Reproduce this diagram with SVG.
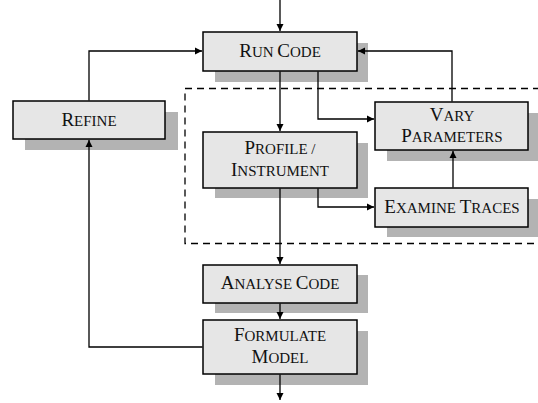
<svg xmlns="http://www.w3.org/2000/svg" width="538" height="403" viewBox="0 0 538 403">
<style>
.box{fill:#e6e6e6;stroke:#000;stroke-width:1.5}
.sh{fill:#b3b3b3}
.t{font-family:"Liberation Serif","Times New Roman",serif;font-size:15px;fill:#111;text-anchor:middle}
.c{font-size:19px}
.ln{fill:none;stroke:#000;stroke-width:1.3}
.dash{fill:none;stroke:#000;stroke-width:1.3;stroke-dasharray:7 5}
</style>
<defs>
<marker id="ah" markerWidth="8" markerHeight="8" refX="7" refY="4" orient="auto" markerUnits="userSpaceOnUse">
<path d="M0,0.5 L7,4 L0,7.5 z" fill="#000"/>
</marker>
</defs>
<path class="dash" d="M540,88.5 H185 V243.5 H540"/>
<g id="run-code">
<rect class="sh" x="215" y="43" width="153" height="39"/>
<rect class="box" x="203" y="32" width="154" height="39"/>
<text class="t" x="280" y="57"><tspan class="c">R</tspan>UN <tspan class="c">C</tspan>ODE</text>
</g>
<g id="refine">
<rect class="sh" x="25" y="112" width="153" height="38"/>
<rect class="box" x="13" y="101" width="152" height="38"/>
<text class="t" x="89" y="126"><tspan class="c">R</tspan>EFINE</text>
</g>
<g id="vary-parameters">
<rect class="sh" x="387" y="113" width="151" height="48"/>
<rect class="box" x="375" y="102" width="153" height="48"/>
<text class="t" x="452" y="121"><tspan class="c">V</tspan>ARY</text>
<text class="t" x="452" y="142"><tspan class="c">P</tspan>ARAMETERS</text>
</g>
<g id="profile-instrument">
<rect class="sh" x="215" y="143" width="153" height="55"/>
<rect class="box" x="203" y="132" width="154" height="56"/>
<text class="t" x="280" y="154"><tspan class="c">P</tspan>ROFILE /</text>
<text class="t" x="280" y="176"><tspan class="c">I</tspan>NSTRUMENT</text>
</g>
<g id="examine-traces">
<rect class="sh" x="387" y="199" width="151" height="38"/>
<rect class="box" x="375" y="188" width="153" height="39"/>
<text class="t" x="452" y="213"><tspan class="c">E</tspan>XAMINE <tspan class="c">T</tspan>RACES</text>
</g>
<g id="analyse-code">
<rect class="sh" x="215" y="275" width="153" height="38"/>
<rect class="box" x="203" y="265" width="154" height="38"/>
<text class="t" x="280" y="289"><tspan class="c">A</tspan>NALYSE <tspan class="c">C</tspan>ODE</text>
</g>
<g id="formulate-model">
<rect class="sh" x="215" y="331" width="153" height="54"/>
<rect class="box" x="203" y="320" width="154" height="54"/>
<text class="t" x="280" y="341"><tspan class="c">F</tspan>ORMULATE</text>
<text class="t" x="280" y="363"><tspan class="c">M</tspan>ODEL</text>
</g>
<g id="connectors">
<path class="ln" d="M280,0 V31" marker-end="url(#ah)"/>
<path class="ln" d="M280,71.5 V131" marker-end="url(#ah)"/>
<path class="ln" d="M318,71.5 V119 H374" marker-end="url(#ah)"/>
<path class="ln" d="M452,101.5 V51 H358" marker-end="url(#ah)"/>
<path class="ln" d="M89,100.5 V51 H202" marker-end="url(#ah)"/>
<path class="ln" d="M318,188.5 V207 H374" marker-end="url(#ah)"/>
<path class="ln" d="M453,187.5 V151" marker-end="url(#ah)"/>
<path class="ln" d="M280,188.5 V264" marker-end="url(#ah)"/>
<path class="ln" d="M280,303.5 V319" marker-end="url(#ah)"/>
<path class="ln" d="M280,374.5 V400" marker-end="url(#ah)"/>
<path class="ln" d="M202.5,347 H89 V140" marker-end="url(#ah)"/>
</g>
</svg>
